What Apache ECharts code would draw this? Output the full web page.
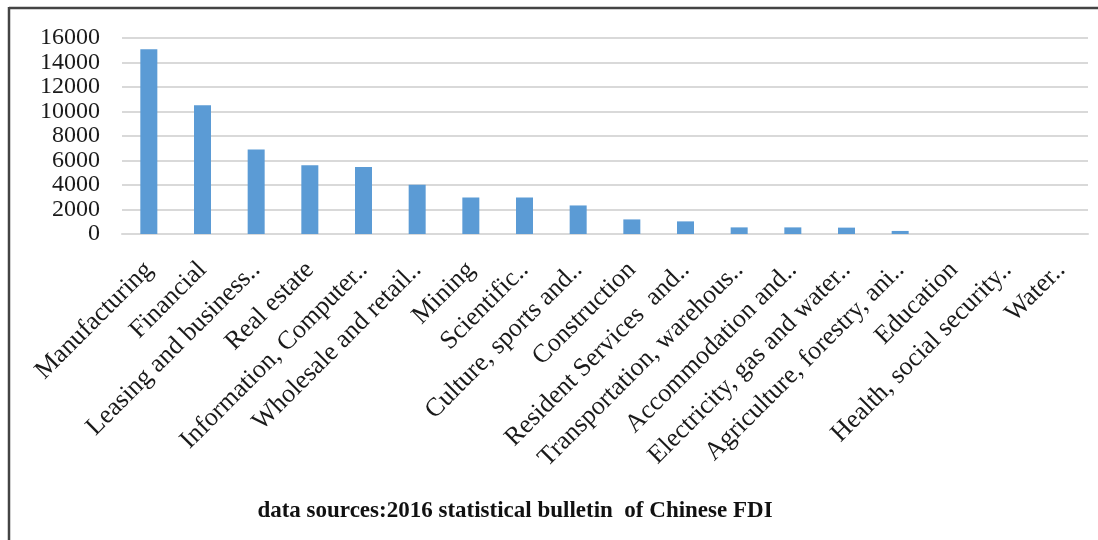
<!DOCTYPE html>
<html>
<head>
<meta charset="utf-8">
<script src="https://cdn.jsdelivr.net/npm/echarts@6/dist/echarts.min.js"></script>
<style>
  html, body { margin: 0; padding: 0; background: #fff; }
  #chart { width: 1098px; height: 540px; }
</style>
</head>
<body>
<div id="chart"></div>
<script>
// Industry categories (labels truncated as in the published figure)
const categories = [
  'Manufacturing', 'Financial', 'Leasing and business..', 'Real estate',
  'Information, Computer..', 'Wholesale and retail..', 'Mining', 'Scientific..',
  'Culture, sports and..', 'Construction', 'Resident Services  and..',
  'Transportation, warehous..', 'Accommodation and..', 'Electricity, gas and water..',
  'Agriculture, forestry, ani..', 'Education', 'Health, social security..', 'Water..'
];
// FDI amount by industry
const fdiValues = [15080, 10520, 6900, 5620, 5460, 4020, 2980, 2980, 2330, 1190, 1030, 540, 540, 520, 250, 0, 0, 0];
// Value axis ticks
const yTicks = [0, 2000, 4000, 6000, 8000, 10000, 12000, 14000, 16000];
const sourceNote = 'data sources:2016 statistical bulletin  of Chinese FDI';

const serif = '"Liberation Serif", "DejaVu Serif", serif';
const chart = echarts.init(document.getElementById('chart'));
chart.setOption({
  backgroundColor: '#ffffff',
  animation: false,
  grid: { left: 122, right: 10, top: 38, bottom: 306 },
  xAxis: {
    type: 'category',
    data: categories,
    axisLine: { show: true, lineStyle: { color: '#d9d9d9', width: 2 } },
    axisTick: { show: false },
    axisLabel: {
      interval: 0,
      rotate: 45,
      margin: 32,
      color: '#1a1a1a',
      fontFamily: serif,
      fontSize: 26
    }
  },
  yAxis: {
    type: 'value',
    min: yTicks[0],
    max: yTicks[yTicks.length - 1],
    interval: yTicks[1] - yTicks[0],
    axisLine: { show: false },
    axisTick: { show: false },
    splitLine: { lineStyle: { color: '#d9d9d9', width: 2 } },
    axisLabel: {
      margin: 22,
      color: '#1a1a1a',
      fontFamily: serif,
      fontSize: 24,
      showMinLabel: true,
      showMaxLabel: true,
      hideOverlap: false,
      formatter: (v) => String(v)
    }
  },
  series: [{
    type: 'bar',
    data: fdiValues,
    barWidth: 17,
    itemStyle: { color: '#5b9bd5', borderWidth: 0 }
  }],
  graphic: [
    { type: 'line', shape: { x1: 9, y1: 8, x2: 1098, y2: 8 }, style: { stroke: '#444', lineWidth: 2.5 } },
    { type: 'line', shape: { x1: 9, y1: 7, x2: 9, y2: 540 }, style: { stroke: '#444', lineWidth: 2.5 } },
    {
      type: 'text', x: 515, y: 511,
      style: {
        text: sourceNote, fontFamily: serif, fontWeight: 'bold', fontSize: 23, fill: '#111',
        align: 'center', verticalAlign: 'middle'
      }
    }
  ]
});
</script>
</body>
</html>
